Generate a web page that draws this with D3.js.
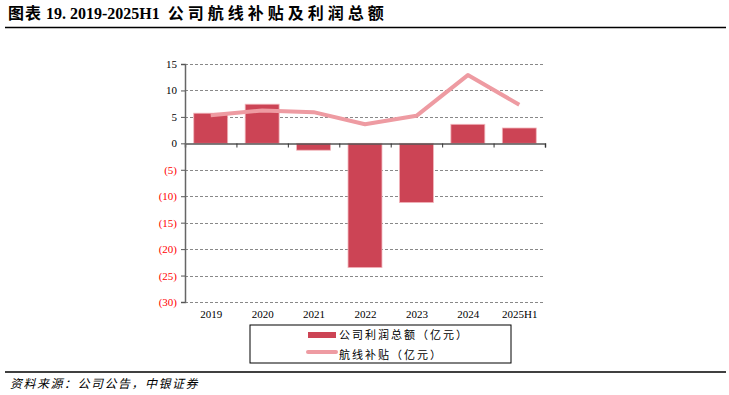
<!DOCTYPE html>
<html>
<head>
<meta charset="utf-8">
<script src="https://cdn.jsdelivr.net/npm/d3@7"></script>
<style>
  body { margin: 0; background: #fff; }
  svg text { font-family: "Liberation Serif", "Noto Sans CJK SC", serif; }
</style>
</head>
<body>
<svg id="chart" width="729" height="395"></svg>
<script>
var categories = ["2019", "2020", "2021", "2022", "2023", "2024", "2025H1"];
var profitValues = [5.7, 7.4, -1.3, -23.5, -11.2, 3.6, 2.9];
var subsidyValues = [5.3, 6.2, 5.9, 3.6, 5.2, 12.9, 7.3];
var yTicks = [15, 10, 5, 0, -5, -10, -15, -20, -25, -30];
var seriesNames = ["公司利润总额（亿元）", "航线补贴（亿元）"];

var svg = d3.select("#chart");
var margin = {top: 64, left: 185, right: 184, bottom: 93},
  width = 729 - margin.left - margin.right,
  height = 395 - margin.top - margin.bottom;

var barColor = "#cc4455", lineColor = "#ee9ba2";

// title + rules
var title = svg.append("text")
  .attr("x", 8).attr("y", 19)
  .style("font-size", "16px").style("font-weight", "bold");
title.append("tspan").style("letter-spacing", "1px")
  .style("font-family", "'Noto Sans CJK SC', sans-serif").text("图表");
title.append("tspan").style("font-family", "'Liberation Serif', serif")
  .text("\u00a019.\u00a02019-2025H1\u00a0\u00a0");
title.append("tspan").style("letter-spacing", "4px")
  .style("font-family", "'Noto Sans CJK SC', sans-serif").text("公司航线补贴及利润总额");
svg.append("line").attr("x1", 5).attr("x2", 726).attr("y1", 27.5).attr("y2", 27.5)
  .attr("stroke", "#000").attr("stroke-width", 1.5);
svg.append("line").attr("x1", 5).attr("x2", 726).attr("y1", 372).attr("y2", 372)
  .attr("stroke", "#000").attr("stroke-width", 1.5);
svg.append("text")
  .attr("x", 10).attr("y", 388)
  .style("font-size", "12px").style("font-style", "italic")
  .style("letter-spacing", "1.5px")
  .style("font-family", "'Noto Sans CJK SC', sans-serif")
  .text("资料来源：公司公告，中银证券");

var g = svg.append("g").attr("transform", "translate(" + margin.left + "," + margin.top + ")");

var x = d3.scaleBand().domain(categories).range([0, width]).paddingInner(0.34).paddingOuter(0.17);
var xc = d3.scalePoint().domain(categories).range([0, width]).padding(0.5);
var y = d3.scaleLinear().domain([-30, 15]).range([height, 0]);

// gridlines
g.selectAll(".grid")
  .data(yTicks)
  .enter().append("line")
  .attr("x1", 0).attr("x2", width)
  .attr("y1", function(d) { return Math.round(y(d)) + 0.5; })
  .attr("y2", function(d) { return Math.round(y(d)) + 0.5; })
  .attr("stroke", "#888").attr("stroke-dasharray", "3,2")
  .attr("stroke-width", function(d) { return d === 0 ? 0 : 1; });

// bars
g.selectAll(".bar")
  .data(profitValues)
  .enter().append("rect")
  .attr("x", function(d, i) { return x(categories[i]); })
  .attr("y", function(d) { return y(Math.max(0, d)); })
  .attr("width", x.bandwidth())
  .attr("height", function(d) { return Math.abs(y(d) - y(0)); })
  .attr("fill", barColor)
  .attr("stroke", "#f2b5bb").attr("stroke-width", 0.8);

// zero axis with ticks between categories
var zeroAxis = d3.axisBottom(d3.scaleLinear().domain([0, categories.length]).range([0, width]))
  .tickValues(d3.range(1, categories.length + 1)).tickSize(4).tickFormat("");
g.append("g").attr("transform", "translate(0," + (Math.round(y(0)) + 0.5) + ")")
  .call(zeroAxis)
  .call(function(s) {
    s.select(".domain").attr("stroke", "#555").attr("stroke-width", 1.5);
    s.selectAll(".tick line").attr("stroke", "#333");
  });

// left axis
g.append("g")
  .call(d3.axisLeft(y).tickValues(yTicks).tickSize(4)
    .tickFormat(function(d) { return d < 0 ? "(" + (-d) + ")" : d; }))
  .call(function(s) {
    s.select(".domain").attr("stroke", "#666").attr("stroke-width", 1.5);
    s.selectAll(".tick line").attr("stroke", "#555");
    s.selectAll(".tick text")
      .style("font-size", "11px")
      .attr("fill", function(d) { return d < 0 ? "#ff0000" : "#000"; })
      .attr("x", -8);
  });

// category labels along the bottom
g.append("g").attr("transform", "translate(0," + height + ")")
  .call(d3.axisBottom(xc).tickSize(0).tickPadding(8))
  .call(function(s) {
    s.select(".domain").remove();
    s.selectAll(".tick text").style("font-size", "11px").attr("fill", "#000");
  });

// line
var line = d3.line()
  .x(function(d, i) { return xc(categories[i]); })
  .y(function(d) { return y(d); });
g.append("path")
  .datum(subsidyValues)
  .attr("d", line)
  .attr("fill", "none")
  .attr("stroke", lineColor)
  .attr("stroke-width", 4)
  .attr("stroke-linejoin", "round");

// legend
var lg = svg.append("g").attr("transform", "translate(250,325)");
lg.append("rect").attr("width", 261).attr("height", 38)
  .attr("fill", "#fff").attr("stroke", "#000").attr("stroke-width", 1);
lg.append("rect").attr("x", 58).attr("y", 7).attr("width", 28).attr("height", 6)
  .attr("fill", barColor);
lg.append("line").attr("x1", 58).attr("x2", 86).attr("y1", 27).attr("y2", 27)
  .attr("stroke", lineColor).attr("stroke-width", 4).attr("stroke-linecap", "round");
lg.selectAll(".lt")
  .data(seriesNames)
  .enter().append("text")
  .attr("x", 89)
  .attr("y", function(d, i) { return 14 + i * 20; })
  .style("font-size", "11px")
  .style("letter-spacing", "2px")
  .style("font-family", "'Noto Sans CJK SC', sans-serif")
  .text(function(d) { return d; });
</script>
</body>
</html>
